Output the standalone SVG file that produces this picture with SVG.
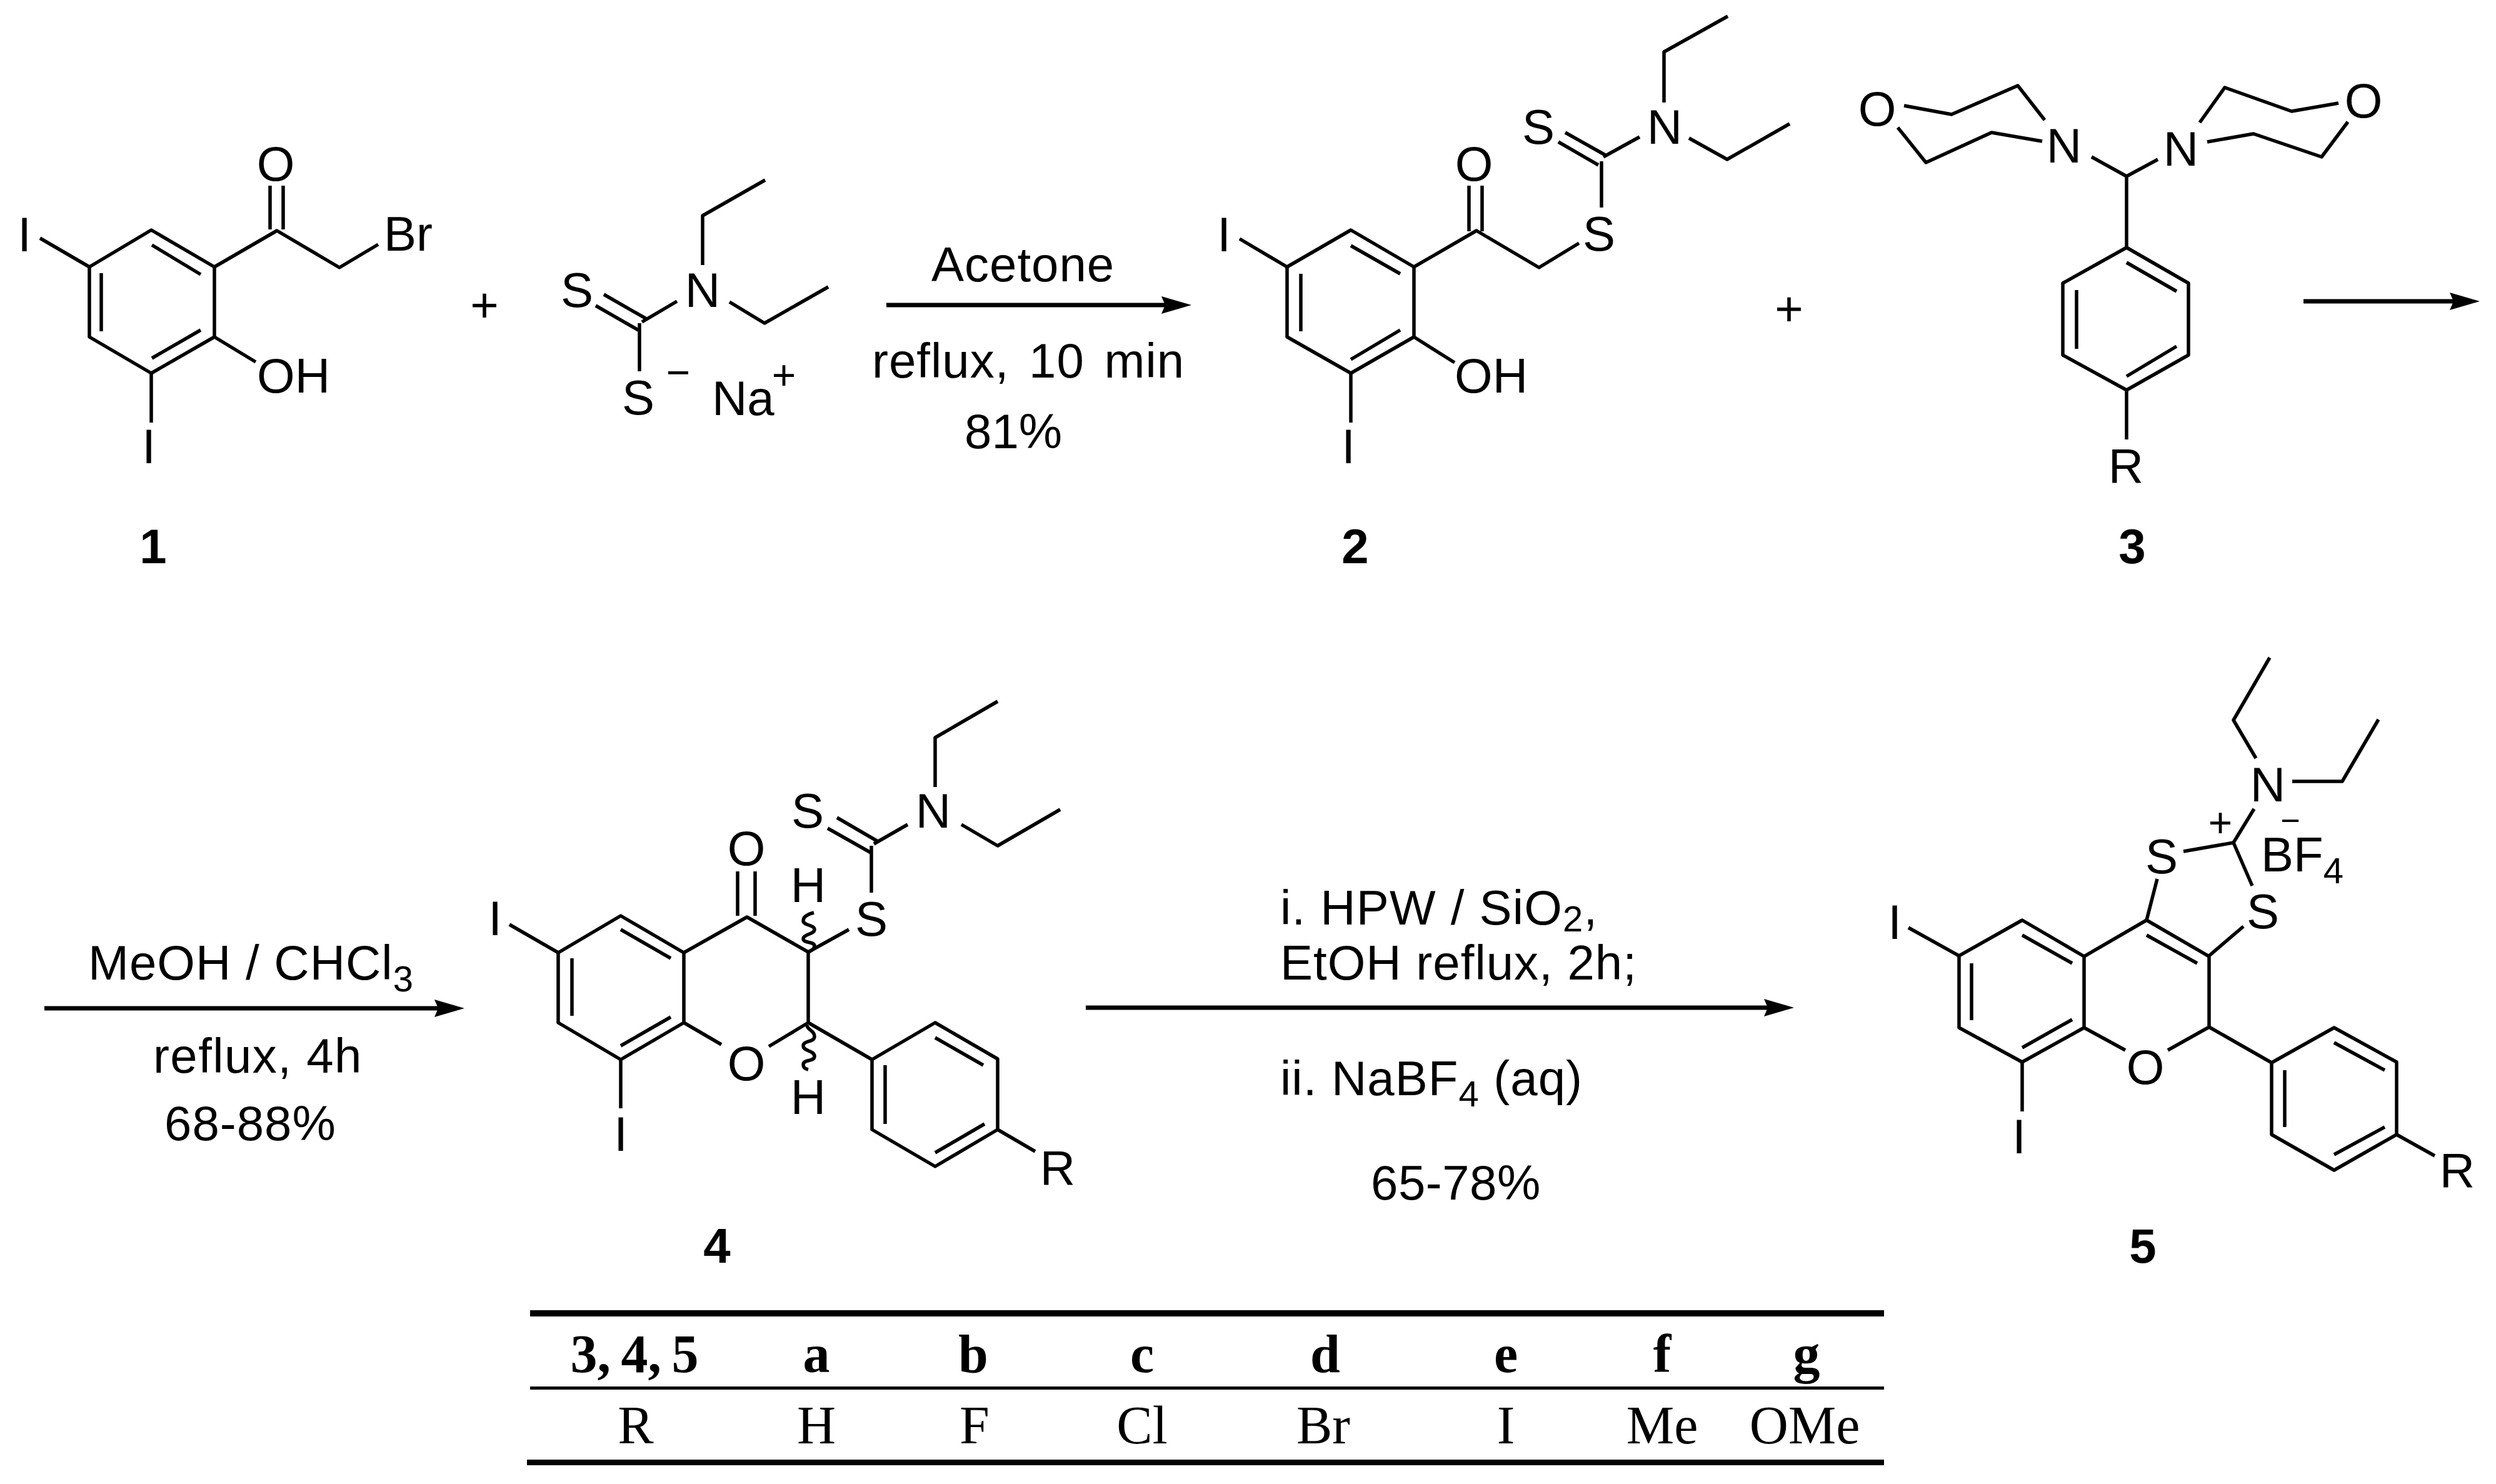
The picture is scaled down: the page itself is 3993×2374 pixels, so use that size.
<svg xmlns="http://www.w3.org/2000/svg" width="3993" height="2374" viewBox="0 0 3993 2374">
<style>
text{font-family:"Liberation Sans",Arial,sans-serif;font-size:78px;fill:#000}
.m{text-anchor:middle}
.c{letter-spacing:1px}
.b{font-weight:bold;font-size:78px;text-anchor:middle}
.s{font-size:58px}
.ch{font-size:66px;text-anchor:middle}
.t{font-family:"Liberation Serif","Times New Roman",serif;font-size:86px;text-anchor:middle}
.th{font-weight:bold}
path{fill:none;stroke:#000;stroke-width:5.5;stroke-linejoin:round;stroke-linecap:butt}
.arrow{stroke-width:7;marker-end:url(#head)}
.rule{stroke-width:5}
</style>
<defs>
<marker id="head" markerUnits="userSpaceOnUse" markerWidth="60" markerHeight="34" refX="6" refY="15" viewBox="0 0 60 34" orient="auto">
<polygon points="0,1 48,15 0,29 6,15" fill="#000"/>
</marker>
</defs>
<rect width="3993" height="2374" fill="#fff"/>
<g id="connectors">
<path class="arrow" d="M1418,488H1864"/>
<path class="arrow" d="M3685,482H3925"/>
<path class="arrow" d="M71,1613H701"/>
<path class="arrow" d="M1737,1612H2828"/>
</g>
<g id="compound-1">
<path d="M242,368L343,427V539L242,597L143,539V427ZM243,392L321,439M162,437V530M243,573L321,528"/>
<path d="M64,381L143,427M343,427L443,369L543,428L605,391M432,297V367M453,297V367M343,539L409,579M242,597V676"/>
<text class="m" x="441" y="289">O</text>
<text x="614" y="401">Br</text>
<text class="m" x="39" y="402">I</text>
<text x="411" y="628">OH</text>
<text class="m" x="238" y="741">I</text>
<text class="b" x="245" y="901">1</text>
</g>
<g id="plus-1"><text class="m" x="775" y="515">+</text></g>
<g id="dithiocarbamate">
<path d="M966,471L1034,510M953,489L1021,528M1027,515L1083,482M1023,517V594M1124,424V345L1224,288M1167,483L1223,517L1325,459"/>
<text class="m" x="1124" y="491">N</text>
<text class="m" x="923" y="491">S</text>
<text class="m" x="1021" y="663">S</text>
<text class="ch" x="1085" y="618">−</text>
<text x="1139" y="664">Na</text>
<text class="ch" x="1254" y="623">+</text>
</g>
<g id="condition-1">
<text class="c" x="1490" y="450">Acetone</text>
<text class="c" x="1395" y="604" word-spacing="9">reflux, 10 min</text>
<text x="1543" y="717">81%</text>
</g>
<g id="compound-2">
<path d="M2161,368L2262,427V539L2161,597L2059,539V427ZM2161,393L2240,438M2081,438V530M2161,575L2240,528"/>
<path d="M1983,382L2059,427M2262,427L2362,369L2462,428L2526,389M2350,297V370M2371,297V370M2262,539L2327,580M2161,597V676"/>
<path d="M2562,332V258M2504,212L2568,248M2493,227L2557,264M2565,251L2623,219M2662,164V83L2764,26M2702,221L2763,255L2863,198"/>
<text class="m" x="2358" y="289">O</text>
<text class="m" x="2558" y="401">S</text>
<text class="m" x="2461" y="230">S</text>
<text class="m" x="2663" y="230">N</text>
<text class="m" x="1958" y="402">I</text>
<text x="2327" y="628">OH</text>
<text class="m" x="2157" y="741">I</text>
<text class="b" x="2168" y="901">2</text>
</g>
<g id="plus-2"><text class="m" x="2862" y="521">+</text></g>
<g id="compound-3">
<path d="M3402,396L3501,453V568L3402,624L3300,568V453ZM3402,420L3482,466M3322,464V558M3402,602L3482,554"/>
<path d="M3402,624V703M3402,396V282L3346,251M3402,282L3452,255"/>
<path d="M3046,169L3122,183L3228,137L3271,192M3036,204L3081,260L3186,212L3267,226M3519,196L3559,140L3666,178L3741,165M3531,227L3605,214L3714,251L3756,195"/>
<text class="m" x="3003" y="201">O</text>
<text class="m" x="3781" y="188">O</text>
<text class="m" x="3302" y="260">N</text>
<text class="m" x="3489" y="265">N</text>
<text class="m" x="3401" y="772">R</text>
<text class="b" x="3411" y="901">3</text>
</g>
<g id="condition-2">
<text class="c" x="141" y="1567">MeOH / CHCl<tspan class="s" dy="19">3</tspan></text>
<text class="c" x="245" y="1716" style="letter-spacing:1.4px">reflux, 4h</text>
<text class="c" x="263" y="1824">68-88%</text>
</g>
<g id="compound-4">
<path d="M893,1524L993,1465L1094,1524V1636L993,1695L893,1636ZM993,1487L1073,1533M915,1533V1625M993,1673L1073,1627"/>
<path d="M815,1479L893,1524M993,1695V1773M1094,1524L1195,1467L1293,1523V1636L1395,1695M1094,1636L1154,1671M1230,1674L1293,1636M1180,1394V1465M1208,1394V1465M1293,1523L1358,1487"/>
<path d="M1394,1428V1353M1339,1308L1406,1347M1324,1325L1393,1364M1398,1350L1452,1319M1496,1259V1180L1596,1122M1538,1319L1596,1353L1696,1295"/>
<path d="M1395,1695L1496,1636L1596,1694V1807L1496,1866L1395,1807ZM1496,1660L1573,1704M1416,1704V1798M1496,1844L1575,1798M1596,1807L1656,1842"/>
<path d="M1302,1460C1294,1462 1285,1466 1285,1473C1285,1481 1303,1479 1303,1487C1303,1495 1285,1494 1285,1502C1285,1509 1303,1506 1303,1513C1303,1518 1298,1521 1293,1523"/>
<path d="M1291,1640C1291,1648 1303,1648 1303,1658C1303,1668 1285,1664 1285,1673C1285,1682 1303,1680 1303,1690C1303,1699 1285,1694 1285,1703C1285,1708 1288,1710 1293,1711"/>
<text class="m" x="1194" y="1384">O</text>
<text class="m" x="1194" y="1728">O</text>
<text class="m" x="1394" y="1497">S</text>
<text class="m" x="1292" y="1324">S</text>
<text class="m" x="1493" y="1324">N</text>
<text class="m" x="1293" y="1443">H</text>
<text class="m" x="1293" y="1782">H</text>
<text class="m" x="792" y="1496">I</text>
<text class="m" x="993" y="1841">I</text>
<text class="m" x="1692" y="1895">R</text>
<text class="b" x="1147" y="2020">4</text>
</g>
<g id="condition-3">
<text class="c" x="2048" y="1479" style="letter-spacing:1.2px">i. HPW / SiO<tspan class="s" dy="11">2</tspan><tspan dy="-11">,</tspan></text>
<text class="c" x="2048" y="1567">EtOH reflux, 2h;</text>
<text class="c" x="2048" y="1752">ii. NaBF<tspan class="s" dy="18">4</tspan><tspan dy="-18"> (aq)</tspan></text>
<text x="2193" y="1919" style="letter-spacing:.5px">65-78%</text>
</g>
<g id="compound-5">
<path d="M3134,1529L3235,1472L3334,1530V1644L3235,1699L3134,1644ZM3235,1496L3315,1541M3154,1541V1632M3235,1676L3315,1631"/>
<path d="M3334,1530L3434,1472L3534,1530V1643L3634,1700M3434,1496L3515,1541M3334,1644L3400,1680M3468,1680L3534,1643M3451,1406L3434,1472M3589,1482L3534,1529"/>
<path d="M3493,1362L3573,1348L3603,1417M3573,1348L3606,1294M3609,1213L3573,1152L3631,1052M3667,1250H3747L3805,1151"/>
<path d="M3634,1700L3734,1644L3834,1699V1815L3734,1872L3634,1815ZM3734,1668L3815,1712M3655,1712V1803M3734,1847L3815,1803M3834,1815L3895,1849"/>
<path d="M3053,1484L3134,1529M3235,1699V1778"/>
<text class="m" x="3628" y="1282">N</text>
<text class="ch" x="3552" y="1339">+</text>
<text class="ch" x="3664" y="1331" style="font-size:54px">−</text>
<text x="3617" y="1394">BF<tspan class="s" dy="19">4</tspan></text>
<text class="m" x="3458" y="1397">S</text>
<text class="m" x="3620" y="1485">S</text>
<text class="m" x="3432" y="1734">O</text>
<text class="m" x="3031" y="1502">I</text>
<text class="m" x="3230" y="1845">I</text>
<text class="m" x="3931" y="1899">R</text>
<text class="b" x="3428" y="2020">5</text>
</g>
<g id="substituent-table">
<path class="rule" style="stroke-width:10" d="M848,2101H3014"/>
<path class="rule" d="M848,2220.5H3014"/>
<path class="rule" style="stroke-width:9" d="M843,2339.5H3014"/>
<text class="t th" x="1015" y="2195" word-spacing="-5">3, 4, 5</text>
<text class="t th" x="1306" y="2195">a</text>
<text class="t th" x="1557" y="2195">b</text>
<text class="t th" x="1827" y="2195">c</text>
<text class="t th" x="2120" y="2195">d</text>
<text class="t th" x="2409" y="2195">e</text>
<text class="t th" x="2659" y="2195">f</text>
<text class="t th" x="2890" y="2195">g</text>
<text class="t" x="1017" y="2309">R</text>
<text class="t" x="1306" y="2309">H</text>
<text class="t" x="1559" y="2309">F</text>
<text class="t" x="1827" y="2309">Cl</text>
<text class="t" x="2117" y="2309">Br</text>
<text class="t" x="2409" y="2309">I</text>
<text class="t" x="2659" y="2309">Me</text>
<text class="t" x="2887" y="2309">OMe</text>
</g>
</svg>
